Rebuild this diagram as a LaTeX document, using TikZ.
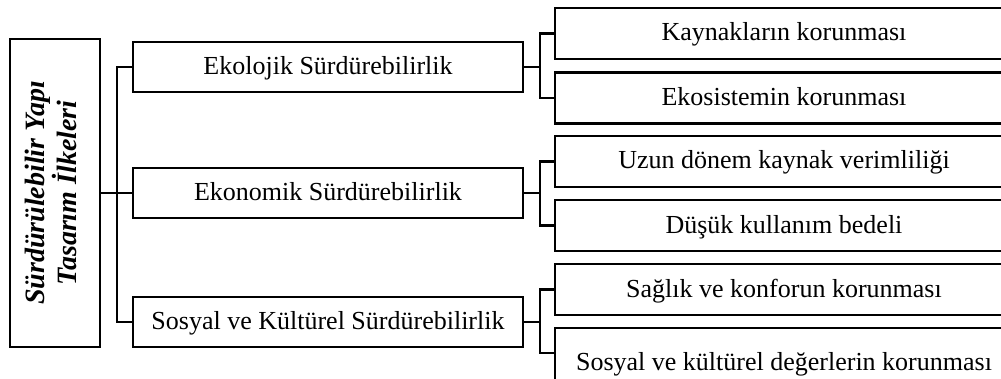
\documentclass[tikz,border=0pt]{standalone}
\usepackage{fontspec}
\usepackage{graphicx}
\setmainfont{Liberation Serif}
\tikzset{
  line/.style={line width=2.8pt},
  box/.style={draw, line width=2.8pt, fill=white, inner sep=0pt, text height=20pt, text depth=5pt,
    font=\fontsize{26}{30}\selectfont},
  midbox/.style={box, minimum width=390pt, minimum height=50pt},
  rbox/.style={box, minimum width=458pt, minimum height=51pt},
  rootbox/.style={draw, line width=2.8pt, inner sep=0pt, minimum width=90pt, minimum height=308pt,
    font=\fontsize{28}{27}\selectfont\bfseries\itshape}
}
\begin{document}
\begin{tikzpicture}[x=1pt,y=1pt]
\useasboundingbox (0,0) rectangle (1001,378);
\clip (0,0) rectangle (1001,378);
\fill[white] (0,0) rectangle (1001,378);
\node[rootbox] (root) at (55,185) {\rotatebox{90}{\begin{tabular}{@{}c@{}}Sürdürülebilir Yapı\\[-1pt] Tasarım İlkeleri\end{tabular}}};
\node[midbox] (m1) at (328,311) {Ekolojik Sürdürebilirlik};
\node[midbox] (m2) at (328,185) {Ekonomik Sürdürebilirlik};
\node[midbox] (m3) at (328,56) {Sosyal ve Kültürel Sürdürebilirlik};
\node[rbox] (r1) at (784,344.5) {Kaynakların korunması};
\node[rbox] (r2) at (784,280) {Ekosistemin korunması};
\node[rbox] (r3) at (784,216.5) {Uzun dönem kaynak verimliliği};
\node[rbox] (r4) at (784,152.5) {Düşük kullanım bedeli};
\node[rbox] (r5) at (784,88.5) {Sağlık ve konforun korunması};
\node[rbox, minimum height=69pt] (r6) at (784,15.5) {Sosyal ve kültürel değerlerin korunması};
\coordinate (tk) at (117,185);
\coordinate (j1) at (540,311);
\coordinate (j2) at (540,185);
\coordinate (j3) at (540,56);
\draw[line] (m1.west) -| (tk) |- (m3.west);
\draw[line] (root.east) -- (m2.west);
\draw[line] (m1.east) -- (j1);
\draw[line] (m2.east) -- (j2);
\draw[line] (m3.east) -- (j3);
\draw[line] (r1.west) -| (j1) |- (r2.west);
\draw[line] (r3.west) -| (j2) |- (r4.west);
\draw[line] (r5.west) -| (j3) |- ([yshift=9.5pt]r6.west);
\end{tikzpicture}
\end{document}
